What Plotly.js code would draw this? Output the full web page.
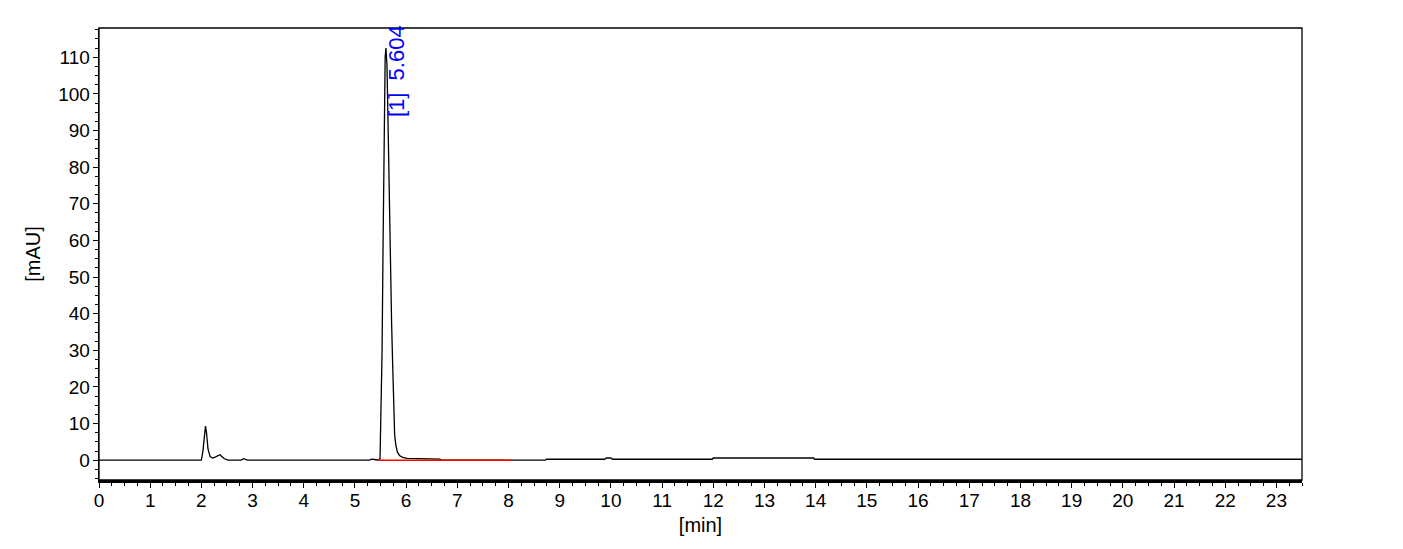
<!DOCTYPE html>
<html>
<head>
<meta charset="utf-8">
<script src="https://cdn.plot.ly/plotly-3.0.1.min.js"></script>
<style>
  html, body { margin: 0; padding: 0; background: #fff; }
  #chromatogram { width: 1403px; height: 549px; }
</style>
</head>
<body>
<div id="chromatogram"></div>
<script>
// Data

const timeMin = [
  0, 2.0, 2.03, 2.06, 2.08, 2.1, 2.13, 2.17, 2.22, 2.28, 2.33, 2.36, 2.4, 2.45, 2.52,
  2.78, 2.82, 2.86, 2.9, 5.28, 5.33, 5.38, 5.44,
  5.46, 5.49, 5.51, 5.53, 5.55, 5.57, 5.59, 5.605, 5.625, 5.645, 5.67, 5.695, 5.715,
  5.735, 5.755, 5.775, 5.8, 5.83, 5.87, 5.93, 6.02, 6.3, 6.66, 6.69,
  8.72, 8.74, 9.88, 9.91, 10.0, 10.03, 11.98, 12.0, 13.96, 13.98, 23.5,
];
const absorbance = [
  0, 0, 2.5, 8.0, 9.3, 7.5, 3.0, 1.0, 0.6, 0.9, 1.4, 1.5, 1.0, 0.4, 0,
  0, 0.4, 0.3, 0, 0, 0.3, 0.2, 0,
  0, 0.5, 12, 30, 60, 88, 110, 112.5, 108, 93, 70, 52, 38,
  27, 14, 7, 4, 2.2, 1.3, 0.8, 0.5, 0.35, 0.3, 0,
  0, 0.27, 0.27, 0.6, 0.6, 0.27, 0.27, 0.6, 0.6, 0.27, 0.27,
];

// integration baseline of peak [1]
const baselineTime = [5.45, 8.05];
const baselineValue = [0, 0];

const peakLabels = ["[1]  5.604"];
const peakTimes = [5.604];

const xTickVals = [];
for (let i = 0; i <= 23; i++) xTickVals.push(i);
const yTickVals = [0, 10, 20, 30, 40, 50, 60, 70, 80, 90, 100, 110];

// Plot

const fontFamily = "Liberation Sans, Arial, sans-serif";

const data = [
  {
    x: timeMin,
    y: absorbance,
    type: "scatter",
    mode: "lines",
    line: { color: "#000000", width: 1.3 },
    hoverinfo: "skip",
  },
  {
    x: baselineTime,
    y: baselineValue,
    type: "scatter",
    mode: "lines",
    line: { color: "#ff0000", width: 1.5 },
    hoverinfo: "skip",
  },
];

const annotations = peakLabels.map((label, i) => ({
  x: peakTimes[i],
  y: 93.5,
  xref: "x",
  yref: "y",
  text: label,
  textangle: -90,
  showarrow: false,
  xanchor: "left",
  yanchor: "bottom",
  xshift: -3,
  borderpad: 0,
  font: { family: fontFamily, size: 22, color: "#0000ff" },
}));

const layout = {
  width: 1403,
  height: 549,
  showlegend: false,
  paper_bgcolor: "#ffffff",
  plot_bgcolor: "#ffffff",
  margin: { l: 99, r: 101, t: 28, b: 69 },
  font: { family: fontFamily, size: 19, color: "#000000" },
  xaxis: {
    range: [0, 23.5],
    tickvals: xTickVals,
    ticks: "outside",
    ticklen: 5,
    tickcolor: "#000000",
    ticklabelstandoff: -3,
    minor: { dtick: 0.25, ticks: "outside", ticklen: 3, tickcolor: "#000000" },
    showgrid: false,
    zeroline: false,
    showline: true,
    linecolor: "#000000",
    linewidth: 2.5,
    tickfont: { family: fontFamily, size: 19 },
    title: { text: "[min]", font: { family: fontFamily, size: 20 }, standoff: 8 },
  },
  yaxis: {
    range: [-5.4, 118],
    tickvals: yTickVals,
    ticks: "outside",
    ticklen: 5,
    tickcolor: "#000000",
    ticklabelstandoff: -1,
    minor: { dtick: 2.5, ticks: "outside", ticklen: 3, tickcolor: "#000000" },
    showgrid: false,
    zeroline: false,
    showline: true,
    linecolor: "#000000",
    linewidth: 1.3,
    tickfont: { family: fontFamily, size: 19 },
    title: { text: "[mAU]", font: { family: fontFamily, size: 20 }, standoff: 12 },
  },
  shapes: [
    {
      type: "rect",
      xref: "paper",
      yref: "paper",
      x0: 0,
      x1: 1,
      y0: 0,
      y1: 1,
      line: { color: "#000000", width: 1.3 },
    },
  ],
  annotations: annotations,
};

Plotly.newPlot("chromatogram", data, layout, {
  displayModeBar: false,
  staticPlot: true,
});
</script>
</body>
</html>
